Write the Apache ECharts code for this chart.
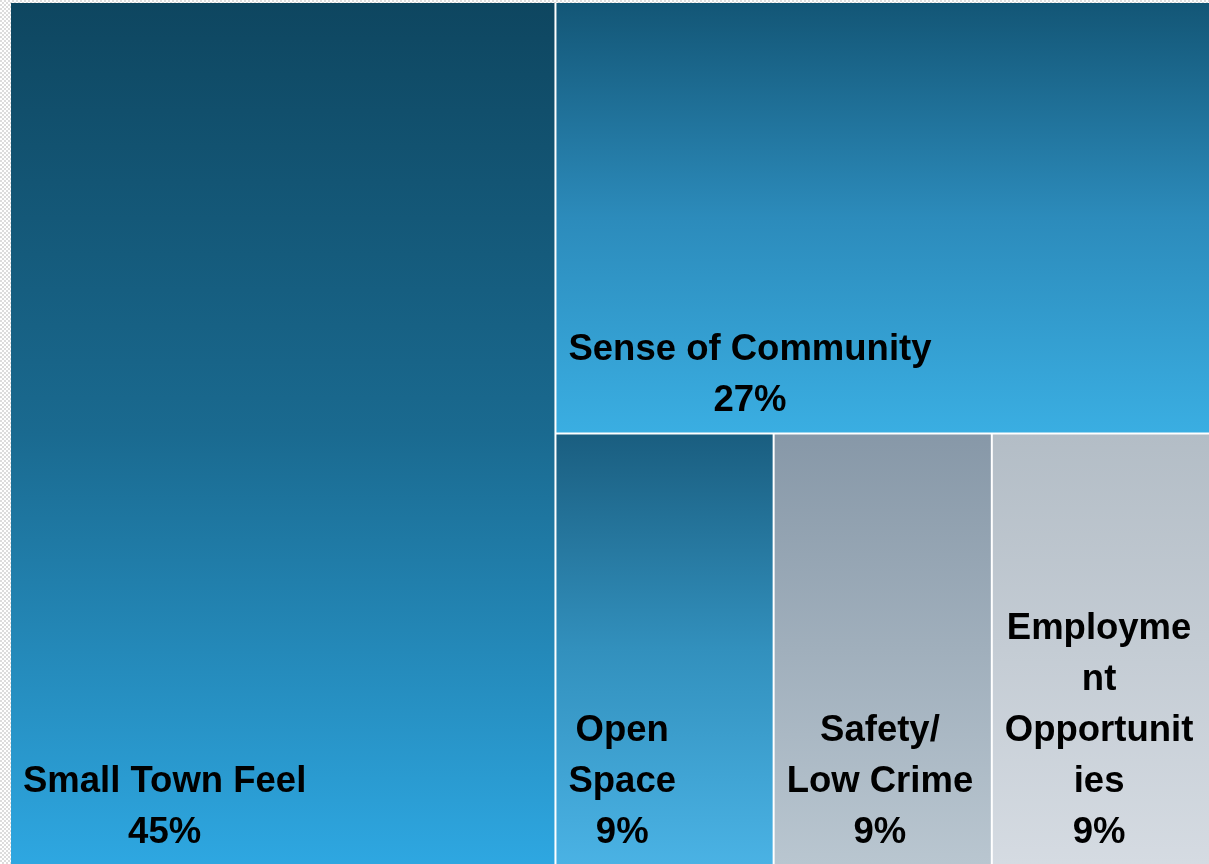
<!DOCTYPE html>
<html>
<head>
<meta charset="utf-8">
<script src="https://cdn.jsdelivr.net/npm/echarts@6/dist/echarts.min.js"></script>
<style>
html,body{margin:0;padding:0;background:#fff;}
#c{width:1209px;height:864px;}
</style>
</head>
<body>
<div id="c"></div>
<script>
// ---- data ----
var categories = ['Small Town Feel', 'Sense of Community', 'Open Space', 'Safety/ Low Crime', 'Employment Opportunities'];
var shares = [45, 27, 9, 9, 9];

// ---- styles (kept apart from data) ----
var gradients = [
  ['#0e4660', '#1a6a90', '#2ea7e1'],
  ['#135676', '#2c8bbb', '#3aaee2'],
  ['#1a5e80', '#3290bd', '#4ab2e4'],
  ['#8798a8', '#a0afbc', '#b9c6d0'],
  ['#b3bdc6', '#c4ccd4', '#d5dbe2']
];
var FONT_SIZE = 36.5, LINE_H = 51, PAD_L = 12, PAD_B = 6;
var FONT = 'bold ' + FONT_SIZE + 'px "Liberation Sans", Arial, sans-serif';

function grad(stops) {
  return new echarts.graphic.LinearGradient(0, 0, 0, 1, [
    {offset: 0, color: stops[0]},
    {offset: 0.5, color: stops[1]},
    {offset: 1, color: stops[2]}
  ]);
}

// light dotted backdrop like the reference's edge
var pat = document.createElement('canvas');
pat.width = 4; pat.height = 4;
var pctx = pat.getContext('2d');
pctx.fillStyle = '#ffffff'; pctx.fillRect(0, 0, 4, 4);
pctx.fillStyle = '#dcdcdc';
pctx.fillRect(0, 0, 2, 2); pctx.fillRect(2, 2, 2, 2);

var dom = document.getElementById('c');
var chart = echarts.init(dom, null, {renderer: 'canvas'});

function buildData(labelCfg) {
  return categories.map(function (n, i) {
    var item = {name: n, value: shares[i], itemStyle: {color: grad(gradients[i])}};
    if (labelCfg && labelCfg[i]) item.label = labelCfg[i];
    return item;
  });
}

function baseOption(data) {
  return {
    animation: false,
    backgroundColor: {image: pat, repeat: 'repeat'},
    series: [{
      type: 'treemap',
      left: 11, top: 3, right: 0, bottom: 0,
      roam: false,
      nodeClick: false,
      sort: false,
      breadcrumb: {show: false},
      squareRatio: 1,
      itemStyle: {gapWidth: 2, borderWidth: 0, borderColor: '#fff'},
      label: {
        show: true,
        color: '#000',
        fontFamily: '"Liberation Sans", Arial, sans-serif',
        fontWeight: 'bold',
        fontSize: FONT_SIZE,
        lineHeight: LINE_H,
        padding: 0,
        overflow: 'none',
        position: 'insideBottomLeft'
      },
      data: data
    }]
  };
}

chart.setOption(baseOption(buildData(null)));

// second pass: wrap labels to each laid-out rect
var ctx = document.createElement('canvas').getContext('2d');
ctx.font = FONT;
function w(s) { return ctx.measureText(s).width; }
function wrap(text, maxW) {
  var words = text.split(' ');
  var lines = [];
  var cur = '';
  words.forEach(function (word) {
    var cand = cur ? cur + ' ' + word : word;
    if (w(cand) <= maxW) { cur = cand; return; }
    if (cur) { lines.push(cur); cur = ''; }
    var piece = '';
    for (var k = 0; k < word.length; k++) {
      if (w(piece + word[k]) <= maxW) piece += word[k];
      else { lines.push(piece); piece = word[k]; }
    }
    cur = piece;
  });
  if (cur) lines.push(cur);
  return lines;
}

var seriesModel = chart.getModel().getSeriesByIndex(0);
var sd = seriesModel.getData();
var labelCfg = [];
for (var i = 0; i < sd.count(); i++) {
  var name = sd.getName(i);
  var idx = categories.indexOf(name);
  if (idx < 0) continue;
  var lay = sd.getItemLayout(i);
  if (!lay) continue;
  var lines = wrap(name, lay.width - 26);
  lines.push(shares[idx] + '%');
  var bw = 0;
  lines.forEach(function (l) { bw = Math.max(bw, w(l)); });
  labelCfg[idx] = {
    formatter: lines.join('\n'),
    position: [PAD_L + bw / 2, lay.height - PAD_B],
    align: 'center',
    verticalAlign: 'bottom'
  };
}
chart.setOption(baseOption(buildData(labelCfg)), true);
</script>
</body>
</html>
